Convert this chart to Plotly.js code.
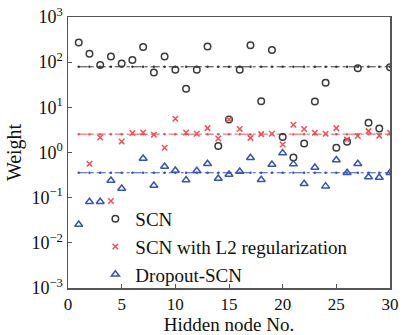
<!DOCTYPE html>
<html>
<head>
<meta charset="utf-8">
<script src="https://cdn.plot.ly/plotly-3.0.1.min.js"></script>
<style>html,body{margin:0;padding:0;background:#fff;}#chart{width:402px;height:335px;}</style>
</head>
<body>
<div id="chart"></div>
<script>
// Hidden node indices
const nodes = [1,2,3,4,5,6,7,8,9,10,11,12,13,14,15,16,17,18,19,20,21,22,23,24,25,26,27,28,29,30];

// SCN output weights (magnitude)
const scnX = nodes;
const scnW = [272,153,87,133,93,111,218,59,133,67.6,25.7,67.6,221,1.39,5.37,67.6,238,13.7,187,2.19,0.775,1.58,13.4,34.8,1.27,1.72,73.6,4.54,3.4,77.5];

// SCN with L2 regularization
const l2X = [2,3,4,5,6,7,8,9,10,11,12,13,14,15,16,17,18,19,20,21,22,23,24,25,26,27,28,29,30];
const l2W = [0.562,2.15,0.084,1.75,2.69,2.77,2.46,1.27,5.57,2.77,2.59,3.47,2.04,5.4,3.3,2.11,2.55,2.59,1.5,4.1,3.3,2.73,2.59,3.47,1.94,2.31,2.97,2.34,2.73];

// Dropout-SCN
const dropX = [1,2,3,4,5,7,8,9,10,11,12,13,14,15,16,17,18,19,20,21,22,23,24,25,26,27,28,29,30];
const dropW = [0.0255,0.081,0.081,0.24,0.16,0.736,0.186,0.49,0.40,0.245,0.394,0.562,0.266,0.326,0.38,0.764,0.249,0.543,0.97,0.553,0.203,0.466,0.18,0.68,0.356,0.562,0.286,0.28,0.356];

// Mean levels
const meanSCN = 79;
const meanL2 = 2.55;
const meanDrop = 0.356;

const xTicks = [0,5,10,15,20,25,30];
const yTickVals = [0.001,0.01,0.1,1,10,100,1000];
const yTickText = ['10<sup>−3</sup>','10<sup>−2</sup>','10<sup>−1</sup>','10<sup>0</sup>','10<sup>1</sup>','10<sup>2</sup>','10<sup>3</sup>'];

const cBlack = '#3a3a3a', cRed = '#f0505a', cBlue = '#3a55b0';
const serif = '"Liberation Serif", "Times New Roman", Times, "DejaVu Serif", serif';

function meanLine(v, color) {
  return {
    x: nodes, y: nodes.map(() => v), type: 'scatter', mode: 'lines+markers',
    line: {color: color, width: 1, dash: 'dashdot'},
    marker: {color: color, size: 2.5, symbol: 'circle'},
    showlegend: false, hoverinfo: 'skip'
  };
}

const data = [
  meanLine(meanSCN, cBlack),
  meanLine(meanL2, cRed),
  meanLine(meanDrop, cBlue),
  {x: scnX, y: scnW, type: 'scatter', mode: 'markers', name: 'SCN',
   marker: {symbol: 'circle-open', size: 6.5, color: cBlack, line: {width: 1.5, color: cBlack}}},
  {x: l2X, y: l2W, type: 'scatter', mode: 'markers', name: 'SCN with L2 regularization',
   marker: {symbol: 'x-thin-open', size: 5.5, color: cRed, line: {width: 1.5, color: cRed}}},
  {x: dropX, y: dropW, type: 'scatter', mode: 'markers', name: 'Dropout-SCN',
   marker: {symbol: 'triangle-up-open', size: 7, color: cBlue, line: {width: 1.5, color: cBlue}}}
];

const layout = {
  width: 402, height: 335,
  margin: {l: 68, r: 12, t: 17, b: 47},
  paper_bgcolor: '#fff', plot_bgcolor: '#fff',
  font: {family: serif, size: 18, color: '#111'},
  showlegend: true,
  legend: {x: 0.085, y: 0.325, xanchor: 'left', yanchor: 'top', bgcolor: 'rgba(0,0,0,0)',
           font: {family: serif, size: 19, color: '#111'}, itemwidth: 30, tracegroupgap: 0},
  xaxis: {
    range: [0, 30], tickvals: xTicks, ticktext: xTicks.map(String),
    ticks: 'inside', ticklen: 4, tickcolor: '#555', showgrid: false, zeroline: false,
    showline: true, linecolor: '#555', linewidth: 1.5, mirror: true,
    tickfont: {family: serif, size: 17, color: '#111'},
    title: {text: 'Hidden node No.', font: {family: serif, size: 19, color: '#111'}, standoff: 4}
  },
  yaxis: {
    type: 'log', range: [-3, 3], tickvals: yTickVals, ticktext: yTickText,
    ticks: 'inside', ticklen: 4, tickcolor: '#555', showgrid: false, zeroline: false,
    showline: true, linecolor: '#555', linewidth: 1.5, mirror: true,
    tickfont: {family: serif, size: 18, color: '#111'},
    title: {text: 'Weight', font: {family: serif, size: 20, color: '#111'}, standoff: 4}
  }
};

Plotly.newPlot('chart', data, layout, {displayModeBar: false, staticPlot: true});
</script>
</body>
</html>
